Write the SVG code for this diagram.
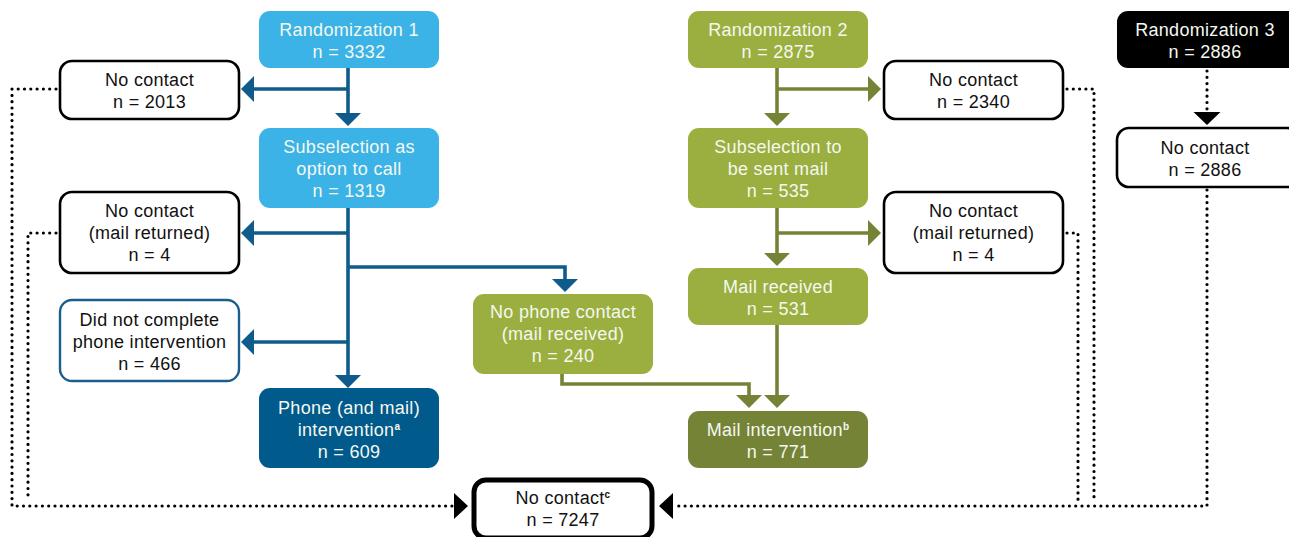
<svg xmlns="http://www.w3.org/2000/svg" width="1289" height="537" viewBox="0 0 1289 537">
<defs>
<style>
text{font-family:"Liberation Sans","DejaVu Sans",sans-serif;font-size:18px;letter-spacing:0.3px;text-anchor:middle}
.w{fill:#f4f8f0}
.k{fill:#111}
.lb{fill:#3bb3e6}
.gr{fill:#9aaf3f}
.db{fill:#005a8b}
.ol{fill:#758337}
.bk{fill:#000}
.wb{fill:#fff;stroke:#000;stroke-width:2.6}
.bb{fill:#fff;stroke:#1a5e8e;stroke-width:2.4}
.thick{fill:#fff;stroke:#000;stroke-width:5}
.cb{fill:none;stroke:#0f5b8b;stroke-width:3.6}
.cg{fill:none;stroke:#758337;stroke-width:3.6}
.cd{fill:none;stroke:#000;stroke-width:3.2;stroke-dasharray:0 6.3;stroke-linecap:round}
.sup{font-size:10px;font-weight:bold}
</style>
<marker id="ab" viewBox="0 0 13 26" refX="0" refY="13" markerWidth="13" markerHeight="26" markerUnits="userSpaceOnUse" orient="auto"><path d="M0,0 L13,13 L0,26 Z" fill="#0f5b8b"/></marker>
<marker id="ag" viewBox="0 0 13 26" refX="0" refY="13" markerWidth="13" markerHeight="26" markerUnits="userSpaceOnUse" orient="auto"><path d="M0,0 L13,13 L0,26 Z" fill="#758337"/></marker>
</defs>

<g id="connectors">
<path class="cb" d="M348,68 V113" marker-end="url(#ab)"/>
<path class="cb" d="M348,89 H254" marker-end="url(#ab)"/>
<path class="cb" d="M348,208 V375" marker-end="url(#ab)"/>
<path class="cb" d="M348,233 H254" marker-end="url(#ab)"/>
<path class="cb" d="M348,267 H565 V279" marker-end="url(#ab)"/>
<path class="cb" d="M348,342 H254" marker-end="url(#ab)"/>
<path class="cg" d="M777,68 V113" marker-end="url(#ag)"/>
<path class="cg" d="M777,89 H868" marker-end="url(#ag)"/>
<path class="cg" d="M777,208 V253" marker-end="url(#ag)"/>
<path class="cg" d="M777,233 H868" marker-end="url(#ag)"/>
<path class="cg" d="M777,325 V395" marker-end="url(#ag)"/>
<path class="cg" d="M562,374 V384 H749 V395" marker-end="url(#ag)"/>
<path class="cd" d="M1207,71 V111"/>
<path d="M1193.5,112 L1220.5,112 L1207,125 Z" fill="#000"/>
<path class="cd" d="M56,89 H12 V506 H452"/>
<path class="cd" d="M56,233 H28 V500"/>
<path d="M454,493 L468,506 L454,519 Z" fill="#000"/>
<path class="cd" d="M1067,89 H1094 V500"/>
<path class="cd" d="M1067,233 H1078 V500"/>
<path class="cd" d="M1207,190 V506 H676"/>
<path d="M673,493 L659,506 L673,519 Z" fill="#000"/>
</g>

<g id="rand1"><rect class="lb" x="259" y="11" width="180" height="57" rx="11"/><text class="w" x="349" y="36">Randomization 1</text><text class="w" x="349" y="58">n = 3332</text></g>
<g id="rand2"><rect class="gr" x="688" y="11" width="180" height="57" rx="11"/><text class="w" x="778" y="36">Randomization 2</text><text class="w" x="778" y="58">n = 2875</text></g>
<g id="rand3"><rect class="bk" x="1117" y="11" width="182" height="57" rx="11"/><text class="w" x="1205" y="36">Randomization 3</text><text class="w" x="1205" y="58">n = 2886</text></g>

<g id="nc2013"><rect class="wb" x="60" y="61" width="179" height="58" rx="12"/><text class="k" x="149.5" y="86">No contact</text><text class="k" x="149.5" y="108">n = 2013</text></g>
<g id="nc2340"><rect class="wb" x="884" y="61" width="179" height="58" rx="12"/><text class="k" x="973.5" y="86">No contact</text><text class="k" x="973.5" y="108">n = 2340</text></g>

<g id="sub1"><rect class="lb" x="259" y="128" width="180" height="80" rx="11"/><text class="w" x="349" y="153">Subselection as</text><text class="w" x="349" y="175">option to call</text><text class="w" x="349" y="197">n = 1319</text></g>
<g id="sub2"><rect class="gr" x="688" y="128" width="180" height="80" rx="11"/><text class="w" x="778" y="153">Subselection to</text><text class="w" x="778" y="175">be sent mail</text><text class="w" x="778" y="197">n = 535</text></g>
<g id="nc2886"><rect class="wb" x="1117" y="128" width="182" height="59" rx="12"/><text class="k" x="1205" y="154">No contact</text><text class="k" x="1205" y="176">n = 2886</text></g>

<g id="ncmr1"><rect class="wb" x="60" y="192" width="179" height="81" rx="12"/><text class="k" x="149.5" y="217">No contact</text><text class="k" x="149.5" y="239">(mail returned)</text><text class="k" x="149.5" y="261">n = 4</text></g>
<g id="ncmr2"><rect class="wb" x="884" y="192" width="179" height="81" rx="12"/><text class="k" x="973.5" y="217">No contact</text><text class="k" x="973.5" y="239">(mail returned)</text><text class="k" x="973.5" y="261">n = 4</text></g>

<g id="mailrec"><rect class="gr" x="688" y="268" width="180" height="57" rx="11"/><text class="w" x="778" y="293">Mail received</text><text class="w" x="778" y="315">n = 531</text></g>
<g id="nophone"><rect class="gr" x="473" y="294" width="180" height="80" rx="11"/><text class="w" x="563" y="318">No phone contact</text><text class="w" x="563" y="340">(mail received)</text><text class="w" x="563" y="362">n = 240</text></g>
<g id="didnot"><rect class="bb" x="60" y="300" width="179" height="81" rx="12"/><text class="k" x="149.5" y="326">Did not complete</text><text class="k" x="149.5" y="348">phone intervention</text><text class="k" x="149.5" y="370">n = 466</text></g>

<g id="phone"><rect class="db" x="259" y="388" width="180" height="80" rx="11"/><text class="w" x="349" y="414">Phone (and mail)</text><text class="w" x="349" y="436">intervention<tspan class="sup" dy="-6">a</tspan></text><text class="w" x="349" y="458">n = 609</text></g>
<g id="mailint"><rect class="ol" x="688" y="411" width="180" height="57" rx="11"/><text class="w" x="778" y="436">Mail intervention<tspan class="sup" dy="-6">b</tspan></text><text class="w" x="778" y="458">n = 771</text></g>

<g id="nc7247"><rect class="thick" x="474" y="480" width="178" height="58" rx="12"/><text class="k" x="563" y="504">No contact<tspan class="sup" dy="-6">c</tspan></text><text class="k" x="563" y="526">n = 7247</text></g>
</svg>
